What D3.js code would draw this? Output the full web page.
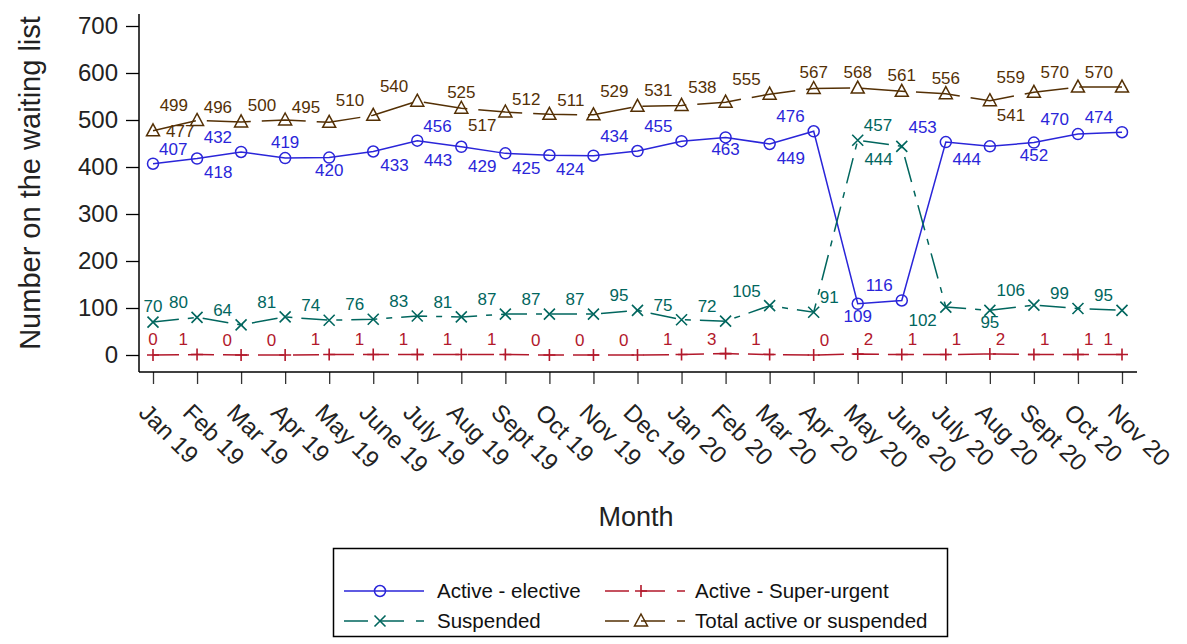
<!DOCTYPE html>
<html>
<head>
<meta charset="utf-8">
<script src="https://cdn.jsdelivr.net/npm/d3@7"></script>
<style>
  html, body { margin: 0; padding: 0; background: #fff; }
  svg { display: block; font-family: "Liberation Sans", Arial, sans-serif; }
</style>
</head>
<body>
<svg id="chart" width="1187" height="644"></svg>
<script>
// ---------------- data ----------------
const months = ["Jan 19","Feb 19","Mar 19","Apr 19","May 19","June 19","July 19","Aug 19","Sept 19","Oct 19","Nov 19","Dec 19",
                "Jan 20","Feb 20","Mar 20","Apr 20","May 20","June 20","July 20","Aug 20","Sept 20","Oct 20","Nov 20"];
const activeElective = [407,418,432,419,420,433,456,443,429,425,424,434,455,463,449,476,109,116,453,444,452,470,474];
const activeSuperUrgent = [0,1,0,0,1,1,1,1,1,0,0,0,1,3,1,0,2,1,1,2,1,1,1];
const suspended = [70,80,64,81,74,76,83,81,87,87,87,95,75,72,105,91,457,444,102,95,106,99,95];
const totalActiveSuspended = [477,499,496,500,495,510,540,525,517,512,511,529,531,538,555,567,568,561,556,541,559,570,570];
const yTicks = [0,100,200,300,400,500,600,700];

// label placement codes (layout only)
const posElective = ["TR","BR","TL","T","B","BR","TR","BL","BL","BL","BL","TL","TL","B","BR","TL","B","TL","TL","BL","B","TL","TL"];
const posUrgent   = ["T","TL","TL","TL","TL","TL","TL","TL","TL","TL","TL","TL","TL","TL","TL","TR","TR","TR","TR","TR","TR","TR","TL"];
const posSusp     = ["T","TL","TL","TL","TL","TL","TL","TL","TL","TL","TL","TL","TL","TL","TL","TR","TR","BL","BL","B","TL","TL","TL"];
const posTotal    = ["R","TL","TL","TL","TL","TL","TL","T","BL","TL","TL","TL","TL","TL","TL","T","T","T","T","BR","TL","TL","TL"];

const series = [
  {name:"Active - elective", values:activeElective, pos:posElective, color:"#2A25D9", dash:null, marker:"circle"},
  {name:"Active - Super-urgent", values:activeSuperUrgent, pos:posUrgent, color:"#B2182B", dash:"26,9", marker:"plus"},
  {name:"Suspended", values:suspended, pos:posSusp, color:"#01665E", dash:"26,9,6,9", marker:"x"},
  {name:"Total active or suspended", values:totalActiveSuspended, pos:posTotal, color:"#543005", dash:"44,11", marker:"triangle"}
];

// ---------------- layout ----------------
const svg = d3.select("#chart");
const axisX = 139, axisY = 372;
const x = d3.scalePoint().domain(months).range([153, 1122]);
const y = d3.scaleLinear().domain([0, 700]).range([355, 26]);

// axes
const yAxis = d3.axisLeft(y).tickValues(yTicks).tickSize(13).tickPadding(8).tickSizeOuter(0);
const gy = svg.append("g").attr("transform", `translate(${axisX},0)`).call(yAxis);
gy.select(".domain").remove();
gy.selectAll(".tick line").attr("stroke", "#000").attr("stroke-width", 1.3);
gy.selectAll(".tick text").attr("font-size", 24).attr("fill", "#222").attr("font-family", "Liberation Sans, Arial, sans-serif");
svg.append("line").attr("x1", axisX).attr("x2", axisX).attr("y1", 14).attr("y2", axisY).attr("stroke", "#000").attr("stroke-width", 1.5);

const xAxis = d3.axisBottom(x).tickSize(12).tickSizeOuter(0);
const gx = svg.append("g").attr("transform", `translate(0,${axisY})`).call(xAxis);
gx.select(".domain").remove();
gx.selectAll(".tick line").attr("stroke", "#333").attr("stroke-width", 1.3);
gx.selectAll(".tick text")
  .attr("font-size", 24).attr("fill", "#222").attr("font-family", "Liberation Sans, Arial, sans-serif")
  .attr("text-anchor", "start")
  .attr("y", 0).attr("dy", 0)
  .attr("transform", "translate(-16,42) rotate(45)");
svg.append("line").attr("x1", axisX).attr("x2", 1137).attr("y1", axisY).attr("y2", axisY).attr("stroke", "#000").attr("stroke-width", 1.5);

// axis titles
svg.append("text").attr("transform", "translate(30,183) rotate(-90)").attr("text-anchor", "middle").attr("dy", "0.35em")
  .attr("font-size", 29).attr("fill", "#222").text("Number on the waiting list");
svg.append("text").attr("x", 636).attr("y", 517).attr("text-anchor", "middle").attr("dy", "0.35em")
  .attr("font-size", 27).attr("fill", "#222").text("Month");

// marker drawing
function drawMarker(g, type, cx, cy, color) {
  if (type === "circle") {
    g.append("circle").attr("cx", cx).attr("cy", cy).attr("r", 5.5).attr("fill", "none").attr("stroke", color).attr("stroke-width", 1.5);
  } else if (type === "plus") {
    g.append("path").attr("d", `M${cx-6},${cy}H${cx+6}M${cx},${cy-6}V${cy+6}`).attr("stroke", color).attr("stroke-width", 1.6).attr("fill", "none");
  } else if (type === "x") {
    g.append("path").attr("d", `M${cx-5.5},${cy-5.5}L${cx+5.5},${cy+5.5}M${cx-5.5},${cy+5.5}L${cx+5.5},${cy-5.5}`).attr("stroke", color).attr("stroke-width", 1.6).attr("fill", "none");
  } else if (type === "triangle") {
    g.append("path").attr("d", `M${cx},${cy-7}L${cx+6.5},${cy+5}L${cx-6.5},${cy+5}Z`).attr("stroke", color).attr("stroke-width", 1.5).attr("fill", "none");
  }
}

const line = d3.line().x((d, i) => x(months[i])).y(d => y(d));
const plot = svg.append("g");

// lines
series.forEach(s => {
  plot.append("path").datum(s.values).attr("d", line).attr("fill", "none")
    .attr("stroke", s.color).attr("stroke-width", 1.5)
    .attr("stroke-dasharray", s.dash);
});
// markers
series.forEach(s => {
  const g = plot.append("g");
  s.values.forEach((v, i) => drawMarker(g, s.marker, x(months[i]), y(v), s.color));
});
// labels
const off = {
  TL: {dx:-9, dy:-15, a:"end"}, TR: {dx:6, dy:-15, a:"start"}, T: {dx:0, dy:-16, a:"middle"},
  B: {dx:0, dy:12, a:"middle"}, BL: {dx:-9, dy:13, a:"end"}, BR: {dx:7, dy:14, a:"start"},
  R: {dx:13, dy:0, a:"start"}
};
series.forEach(s => {
  const g = plot.append("g");
  s.values.forEach((v, i) => {
    const o = off[s.pos[i]];
    g.append("text").attr("x", x(months[i]) + o.dx).attr("y", y(v) + o.dy).attr("dy", "0.35em")
      .attr("text-anchor", o.a).attr("font-size", 17).attr("fill", s.color).text(v);
  });
});

// legend
const lg = svg.append("g");
lg.append("rect").attr("x", 333.5).attr("y", 548.5).attr("width", 614).attr("height", 88)
  .attr("fill", "none").attr("stroke", "#000").attr("stroke-width", 1.5);
const legendItems = [
  {s: series[0], x0: 344, tx: 437, yy: 591},
  {s: series[1], x0: 605, tx: 695, yy: 591},
  {s: series[2], x0: 344, tx: 437, yy: 621},
  {s: series[3], x0: 605, tx: 695, yy: 621}
];
legendItems.forEach(it => {
  lg.append("line").attr("x1", it.x0).attr("x2", it.x0 + 80).attr("y1", it.yy).attr("y2", it.yy)
    .attr("stroke", it.s.color).attr("stroke-width", 1.5).attr("stroke-dasharray", it.s.dash ? "24,12" : null);
  drawMarker(lg, it.s.marker, it.x0 + 36, it.yy, it.s.color);
  lg.append("text").attr("x", it.tx).attr("y", it.yy).attr("dy", "0.35em").attr("font-size", 20.5).attr("fill", "#111").text(it.s.name);
});
</script>
</body>
</html>
